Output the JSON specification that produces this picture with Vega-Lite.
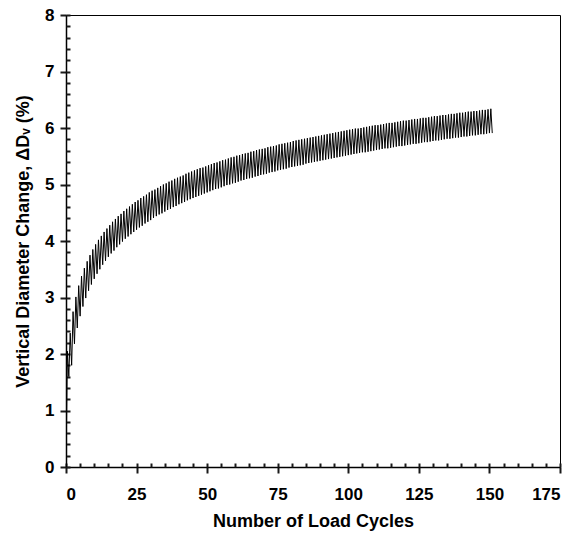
{
  "$schema": "https://vega.github.io/schema/vega-lite/v6.json",
  "width": 494,
  "height": 452,
  "autosize": {"type": "none"},
  "padding": {"left": 66, "top": 15, "right": 24, "bottom": 75},
  "background": "white",
  "config": {
    "view": {"stroke": "black", "strokeWidth": 1},
    "axis": {"grid": false, "labelFont": "Liberation Sans", "titleFont": "Liberation Sans", "labelFontWeight": "bold", "titleFontWeight": "bold", "labelColor": "black", "titleColor": "black", "domainColor": "black"}
  },
  "data": {"values": [
    {"c":0,"d":0},
    {"c":0.5,"d":2.05},{"c":1,"d":1.60},
    {"c":1.5,"d":2.37},{"c":2,"d":1.80},
    {"c":2.5,"d":2.75},{"c":3,"d":2.18},
    {"c":3.5,"d":3.01},{"c":4,"d":2.46},
    {"c":4.5,"d":3.21},{"c":5,"d":2.67},
    {"c":5.5,"d":3.38},{"c":6,"d":2.84},
    {"c":6.5,"d":3.52},{"c":7,"d":2.99},
    {"c":7.5,"d":3.64},{"c":8,"d":3.12},
    {"c":8.5,"d":3.75},{"c":9,"d":3.23},
    {"c":9.5,"d":3.85},{"c":10,"d":3.33},
    {"c":10.5,"d":3.94},{"c":11,"d":3.42},
    {"c":11.5,"d":4.02},{"c":12,"d":3.50},
    {"c":12.5,"d":4.09},{"c":13,"d":3.58},
    {"c":13.5,"d":4.16},{"c":14,"d":3.65},
    {"c":14.5,"d":4.22},{"c":15,"d":3.72},
    {"c":15.5,"d":4.28},{"c":16,"d":3.78},
    {"c":16.5,"d":4.34},{"c":17,"d":3.83},
    {"c":17.5,"d":4.39},{"c":18,"d":3.89},
    {"c":18.5,"d":4.44},{"c":19,"d":3.94},
    {"c":19.5,"d":4.48},{"c":20,"d":3.99},
    {"c":20.5,"d":4.53},{"c":21,"d":4.04},
    {"c":21.5,"d":4.57},{"c":22,"d":4.08},
    {"c":22.5,"d":4.61},{"c":23,"d":4.12},
    {"c":23.5,"d":4.65},{"c":24,"d":4.16},
    {"c":24.5,"d":4.69},{"c":25,"d":4.20},
    {"c":25.5,"d":4.72},{"c":26,"d":4.24},
    {"c":26.5,"d":4.76},{"c":27,"d":4.27},
    {"c":27.5,"d":4.79},{"c":28,"d":4.31},
    {"c":28.5,"d":4.82},{"c":29,"d":4.34},
    {"c":29.5,"d":4.86},{"c":30,"d":4.37},
    {"c":30.5,"d":4.89},{"c":31,"d":4.41},
    {"c":31.5,"d":4.91},{"c":32,"d":4.44},
    {"c":32.5,"d":4.94},{"c":33,"d":4.47},
    {"c":33.5,"d":4.97},{"c":34,"d":4.49},
    {"c":34.5,"d":5.00},{"c":35,"d":4.52},
    {"c":35.5,"d":5.02},{"c":36,"d":4.55},
    {"c":36.5,"d":5.05},{"c":37,"d":4.57},
    {"c":37.5,"d":5.07},{"c":38,"d":4.60},
    {"c":38.5,"d":5.10},{"c":39,"d":4.62},
    {"c":39.5,"d":5.12},{"c":40,"d":4.65},
    {"c":40.5,"d":5.14},{"c":41,"d":4.67},
    {"c":41.5,"d":5.16},{"c":42,"d":4.69},
    {"c":42.5,"d":5.19},{"c":43,"d":4.72},
    {"c":43.5,"d":5.21},{"c":44,"d":4.74},
    {"c":44.5,"d":5.23},{"c":45,"d":4.76},
    {"c":45.5,"d":5.25},{"c":46,"d":4.78},
    {"c":46.5,"d":5.27},{"c":47,"d":4.80},
    {"c":47.5,"d":5.29},{"c":48,"d":4.82},
    {"c":48.5,"d":5.30},{"c":49,"d":4.84},
    {"c":49.5,"d":5.32},{"c":50,"d":4.86},
    {"c":50.5,"d":5.34},{"c":51,"d":4.88},
    {"c":51.5,"d":5.36},{"c":52,"d":4.90},
    {"c":52.5,"d":5.38},{"c":53,"d":4.92},
    {"c":53.5,"d":5.39},{"c":54,"d":4.93},
    {"c":54.5,"d":5.41},{"c":55,"d":4.95},
    {"c":55.5,"d":5.43},{"c":56,"d":4.97},
    {"c":56.5,"d":5.44},{"c":57,"d":4.99},
    {"c":57.5,"d":5.46},{"c":58,"d":5.00},
    {"c":58.5,"d":5.48},{"c":59,"d":5.02},
    {"c":59.5,"d":5.49},{"c":60,"d":5.03},
    {"c":60.5,"d":5.51},{"c":61,"d":5.05},
    {"c":61.5,"d":5.52},{"c":62,"d":5.07},
    {"c":62.5,"d":5.54},{"c":63,"d":5.08},
    {"c":63.5,"d":5.55},{"c":64,"d":5.10},
    {"c":64.5,"d":5.56},{"c":65,"d":5.11},
    {"c":65.5,"d":5.58},{"c":66,"d":5.12},
    {"c":66.5,"d":5.59},{"c":67,"d":5.14},
    {"c":67.5,"d":5.61},{"c":68,"d":5.15},
    {"c":68.5,"d":5.62},{"c":69,"d":5.17},
    {"c":69.5,"d":5.63},{"c":70,"d":5.18},
    {"c":70.5,"d":5.64},{"c":71,"d":5.19},
    {"c":71.5,"d":5.66},{"c":72,"d":5.21},
    {"c":72.5,"d":5.67},{"c":73,"d":5.22},
    {"c":73.5,"d":5.68},{"c":74,"d":5.23},
    {"c":74.5,"d":5.69},{"c":75,"d":5.25},
    {"c":75.5,"d":5.71},{"c":76,"d":5.26},
    {"c":76.5,"d":5.72},{"c":77,"d":5.27},
    {"c":77.5,"d":5.73},{"c":78,"d":5.28},
    {"c":78.5,"d":5.74},{"c":79,"d":5.30},
    {"c":79.5,"d":5.75},{"c":80,"d":5.31},
    {"c":80.5,"d":5.77},{"c":81,"d":5.32},
    {"c":81.5,"d":5.78},{"c":82,"d":5.33},
    {"c":82.5,"d":5.79},{"c":83,"d":5.34},
    {"c":83.5,"d":5.80},{"c":84,"d":5.35},
    {"c":84.5,"d":5.81},{"c":85,"d":5.37},
    {"c":85.5,"d":5.82},{"c":86,"d":5.38},
    {"c":86.5,"d":5.83},{"c":87,"d":5.39},
    {"c":87.5,"d":5.84},{"c":88,"d":5.40},
    {"c":88.5,"d":5.85},{"c":89,"d":5.41},
    {"c":89.5,"d":5.86},{"c":90,"d":5.42},
    {"c":90.5,"d":5.87},{"c":91,"d":5.43},
    {"c":91.5,"d":5.88},{"c":92,"d":5.44},
    {"c":92.5,"d":5.89},{"c":93,"d":5.45},
    {"c":93.5,"d":5.90},{"c":94,"d":5.46},
    {"c":94.5,"d":5.91},{"c":95,"d":5.47},
    {"c":95.5,"d":5.92},{"c":96,"d":5.48},
    {"c":96.5,"d":5.93},{"c":97,"d":5.49},
    {"c":97.5,"d":5.94},{"c":98,"d":5.50},
    {"c":98.5,"d":5.95},{"c":99,"d":5.51},
    {"c":99.5,"d":5.96},{"c":100,"d":5.52},
    {"c":100.5,"d":5.97},{"c":101,"d":5.53},
    {"c":101.5,"d":5.98},{"c":102,"d":5.54},
    {"c":102.5,"d":5.99},{"c":103,"d":5.55},
    {"c":103.5,"d":5.99},{"c":104,"d":5.56},
    {"c":104.5,"d":6.00},{"c":105,"d":5.57},
    {"c":105.5,"d":6.01},{"c":106,"d":5.57},
    {"c":106.5,"d":6.02},{"c":107,"d":5.58},
    {"c":107.5,"d":6.03},{"c":108,"d":5.59},
    {"c":108.5,"d":6.04},{"c":109,"d":5.60},
    {"c":109.5,"d":6.05},{"c":110,"d":5.61},
    {"c":110.5,"d":6.05},{"c":111,"d":5.62},
    {"c":111.5,"d":6.06},{"c":112,"d":5.63},
    {"c":112.5,"d":6.07},{"c":113,"d":5.64},
    {"c":113.5,"d":6.08},{"c":114,"d":5.64},
    {"c":114.5,"d":6.09},{"c":115,"d":5.65},
    {"c":115.5,"d":6.09},{"c":116,"d":5.66},
    {"c":116.5,"d":6.10},{"c":117,"d":5.67},
    {"c":117.5,"d":6.11},{"c":118,"d":5.68},
    {"c":118.5,"d":6.12},{"c":119,"d":5.68},
    {"c":119.5,"d":6.13},{"c":120,"d":5.69},
    {"c":120.5,"d":6.13},{"c":121,"d":5.70},
    {"c":121.5,"d":6.14},{"c":122,"d":5.71},
    {"c":122.5,"d":6.15},{"c":123,"d":5.72},
    {"c":123.5,"d":6.16},{"c":124,"d":5.72},
    {"c":124.5,"d":6.16},{"c":125,"d":5.73},
    {"c":125.5,"d":6.17},{"c":126,"d":5.74},
    {"c":126.5,"d":6.18},{"c":127,"d":5.75},
    {"c":127.5,"d":6.18},{"c":128,"d":5.75},
    {"c":128.5,"d":6.19},{"c":129,"d":5.76},
    {"c":129.5,"d":6.20},{"c":130,"d":5.77},
    {"c":130.5,"d":6.21},{"c":131,"d":5.78},
    {"c":131.5,"d":6.21},{"c":132,"d":5.78},
    {"c":132.5,"d":6.22},{"c":133,"d":5.79},
    {"c":133.5,"d":6.23},{"c":134,"d":5.80},
    {"c":134.5,"d":6.23},{"c":135,"d":5.81},
    {"c":135.5,"d":6.24},{"c":136,"d":5.81},
    {"c":136.5,"d":6.25},{"c":137,"d":5.82},
    {"c":137.5,"d":6.25},{"c":138,"d":5.83},
    {"c":138.5,"d":6.26},{"c":139,"d":5.83},
    {"c":139.5,"d":6.27},{"c":140,"d":5.84},
    {"c":140.5,"d":6.27},{"c":141,"d":5.85},
    {"c":141.5,"d":6.28},{"c":142,"d":5.85},
    {"c":142.5,"d":6.29},{"c":143,"d":5.86},
    {"c":143.5,"d":6.29},{"c":144,"d":5.87},
    {"c":144.5,"d":6.30},{"c":145,"d":5.87},
    {"c":145.5,"d":6.30},{"c":146,"d":5.88},
    {"c":146.5,"d":6.31},{"c":147,"d":5.89},
    {"c":147.5,"d":6.32},{"c":148,"d":5.89},
    {"c":148.5,"d":6.32},{"c":149,"d":5.90},
    {"c":149.5,"d":6.33},{"c":150,"d":5.91},
    {"c":150.5,"d":6.34},{"c":151,"d":5.91}
  ]},
  "layer": [
    {
      "mark": {"type": "line", "color": "black", "strokeWidth": 1, "clip": true},
      "encoding": {
        "x": {"field": "c", "type": "quantitative",
          "scale": {"domain": [0, 175], "nice": false, "zero": false},
          "axis": {"orient": "bottom", "values": [0, 25, 50, 75, 100, 125, 150, 175], "ticks": true, "tickSize": 6, "tickWidth": 2, "tickColor": "#1a1a1a", "domainWidth": 1.5,
            "labelFontSize": 17, "labelPadding": 13, "title": "Number of Load Cycles", "titleFontSize": 18, "titlePadding": 10}},
        "y": {"field": "d", "type": "quantitative",
          "scale": {"domain": [0, 8], "nice": false, "zero": false},
          "axis": {"orient": "left", "values": [0, 1, 2, 3, 4, 5, 6, 7, 8], "ticks": true, "tickSize": 6, "tickWidth": 2, "tickColor": "#1a1a1a", "domainWidth": 1.5,
            "labelFontSize": 17, "labelPadding": 6, "title": "Vertical Diameter Change, ΔDᵥ (%)", "titleFontSize": 18, "titlePadding": 12}}
      }
    },
    {
      "mark": {"type": "line", "strokeOpacity": 0},
      "encoding": {
        "x": {"field": "c", "type": "quantitative",
          "scale": {"domain": [0, 175], "nice": false, "zero": false},
          "axis": {"orient": "top", "offset": -452, "values": [0,5,10,15,20,25,30,35,40,45,50,55,60,65,70,75,80,85,90,95,100,105,110,115,120,125,130,135,140,145,150,155,160,165,170,175],
            "ticks": true, "tickSize": 4, "tickWidth": 2, "tickColor": "#1a1a1a", "labels": true, "labelOpacity": 0, "domain": false, "title": "m", "titleOpacity": 0}},
        "y": {"field": "d", "type": "quantitative",
          "scale": {"domain": [0, 8], "nice": false, "zero": false},
          "axis": {"orient": "right", "offset": -494, "values": [0,0.2,0.4,0.6,0.8,1,1.2,1.4,1.6,1.8,2,2.2,2.4,2.6,2.8,3,3.2,3.4,3.6,3.8,4,4.2,4.4,4.6,4.8,5,5.2,5.4,5.6,5.8,6,6.2,6.4,6.6,6.8,7,7.2,7.4,7.6,7.8,8],
            "ticks": true, "tickSize": 4, "tickWidth": 2, "tickColor": "#1a1a1a", "labels": true, "labelOpacity": 0, "domain": false, "title": "m", "titleOpacity": 0}}
      }
    }
  ],
  "resolve": {"scale": {"x": "independent", "y": "independent"}}
}
